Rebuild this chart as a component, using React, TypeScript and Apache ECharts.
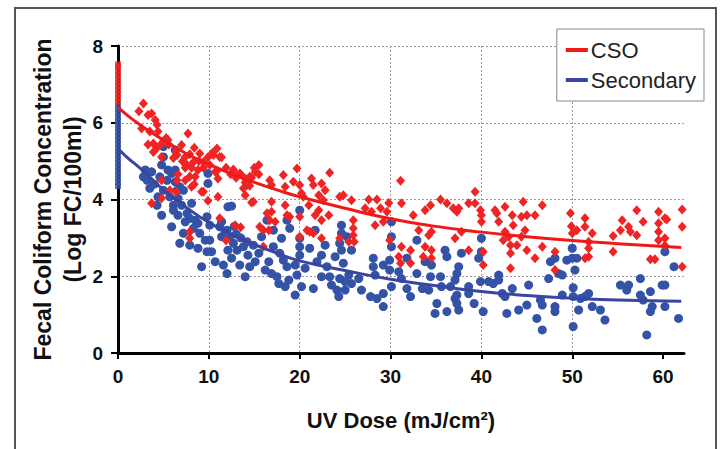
import React, { useEffect, useRef } from "react";
import * as echarts from "echarts";

// UV dose (mJ/cm2) vs log fecal coliform concentration
const csoPoints: number[][] = [
  [2.8, 6.5], [3.7, 6.24], [4.1, 6.07], [2.6, 5.85], [3.5, 5.77], [4.4, 5.77], [7.7, 5.72], [3.9, 5.46], [4.8, 5.46], [5.5, 5.55],
  [7.0, 5.42], [3.9, 5.24], [4.8, 5.11], [6.5, 5.16], [7.4, 5.11], [9.0, 5.2], [10.9, 5.33], [10.5, 5.16], [11.2, 5.11], [7.6, 4.9],
  [8.3, 4.98], [9.4, 4.98], [10.1, 4.9], [10.7, 4.72], [11.0, 4.55], [8.8, 4.77], [7.4, 4.5], [8.5, 4.59], [8.1, 4.33], [9.2, 4.2],
  [11.0, 4.07], [6.5, 4.5], [5.7, 4.24], [4.8, 4.03], [3.7, 3.9], [11.2, 3.51], [7.9, 3.16], [7.9, 2.99], [4.8, 4.5],
  [2.3, 6.3], [3.3, 6.2], [4.3, 5.95], [5.3, 5.6], [3.3, 5.43], [4.3, 5.35], [5.6, 5.43], [6.4, 5.26], [6.1, 5.08], [7.1, 5.0],
  [7.9, 5.18], [8.4, 5.35], [6.6, 4.66], [7.4, 4.83], [8.1, 4.83], [7.9, 4.6], [8.9, 5.0], [9.4, 4.83], [8.4, 4.4], [9.4, 4.2],
  [9.9, 5.1], [10.4, 5.22], [11.4, 5.1], [11.9, 4.83], [12.4, 4.66], [13.0, 4.57], [12.7, 4.75], [13.5, 4.66], [14.0, 4.44], [14.5, 4.36],
  [15.0, 4.83], [14.7, 4.57], [15.5, 4.66], [10.9, 4.75], [6.4, 4.2], [9.9, 3.97], [14.7, 3.92], [13.5, 3.28], [11.9, 2.93],
  [12.7, 4.78], [13.4, 4.68], [14.0, 4.55], [14.5, 4.59], [14.2, 4.38], [13.8, 4.29], [15.1, 4.72], [15.5, 4.9], [14.0, 4.11], [14.9, 3.94],
  [16.7, 4.5], [16.9, 4.38], [18.2, 4.64], [18.4, 4.33], [19.3, 4.46], [19.7, 4.81], [20.0, 4.38], [20.2, 4.16], [20.4, 4.07], [21.0, 3.85],
  [21.3, 4.55], [21.5, 4.38], [22.1, 4.11], [22.4, 4.42], [22.8, 4.24], [22.6, 3.98], [23.3, 4.7], [23.2, 3.59], [22.4, 3.46], [22.1, 3.72],
  [21.7, 3.59], [21.1, 3.16], [21.5, 3.12], [20.8, 3.2], [22.4, 2.99], [20.0, 3.55], [20.0, 3.03], [16.9, 3.68], [16.4, 3.64], [16.7, 3.46],
  [17.3, 3.42], [15.6, 3.29], [16.0, 3.2], [16.6, 3.2], [12.9, 3.33], [16.0, 2.77], [18.4, 3.85], [18.9, 3.55], [16.9, 3.94], [18.6, 3.59],
  [24.4, 2.99], [24.4, 4.07],
  [31.1, 4.49], [24.8, 4.11], [25.7, 3.98], [27.6, 4.0], [28.5, 4.0], [29.8, 3.91], [31.2, 3.9], [27.2, 3.77], [27.9, 3.68], [28.9, 3.77],
  [29.6, 3.68], [29.2, 3.42], [28.3, 3.33], [32.5, 3.59], [33.8, 3.72], [34.4, 3.85], [35.5, 4.0], [36.2, 3.9], [36.9, 3.77], [37.3, 3.68],
  [25.9, 3.46], [25.9, 3.25], [25.9, 3.07], [25.4, 2.9], [26.0, 2.9], [33.1, 3.2], [34.2, 3.07], [34.5, 3.16], [29.9, 2.94], [31.2, 2.77],
  [32.2, 2.68], [30.9, 2.51], [31.1, 2.34], [32.2, 2.34], [33.8, 2.77], [34.5, 2.68], [33.6, 2.51], [34.5, 2.47], [37.1, 2.99],
  [39.3, 4.2], [38.6, 3.9], [39.3, 3.9], [37.5, 3.77], [39.9, 3.72], [40.0, 3.59], [40.0, 3.42], [37.8, 3.16], [41.5, 3.72], [41.7, 3.64],
  [42.6, 3.81], [41.9, 3.42], [43.4, 3.59], [43.5, 3.33], [44.6, 3.94], [44.4, 3.55], [45.0, 3.59], [45.9, 3.59], [46.7, 3.85], [42.6, 3.16],
  [43.0, 3.03], [44.8, 3.2], [44.4, 3.03], [42.4, 2.94], [43.2, 2.81], [43.9, 2.81], [43.2, 2.6], [45.0, 2.68], [45.9, 2.47], [46.7, 2.77],
  [38.6, 2.68], [40.2, 2.64], [40.2, 2.29], [43.2, 2.21], [48.1, 2.64], [48.1, 2.16], [49.8, 3.64], [50.0, 3.12], [49.9, 3.3],
  [51.4, 3.51], [51.4, 3.29], [50.5, 3.2], [52.2, 3.12], [51.8, 2.9], [51.8, 2.73], [51.8, 2.51], [51.4, 2.47], [54.5, 3.05], [54.5, 2.64],
  [55.5, 3.46], [55.3, 3.2], [56.2, 3.29], [56.4, 3.16], [57.1, 3.07], [57.1, 3.72], [57.8, 3.42], [58.6, 2.44], [59.1, 2.44], [59.5, 3.68],
  [59.5, 3.38], [59.5, 3.16], [59.5, 2.94], [60.2, 3.51], [60.4, 3.48], [60.2, 2.99], [60.2, 2.8], [62.1, 3.74], [62.1, 3.29], [62.1, 2.25],
];

const secondaryPoints: number[][] = [
  [3.0, 4.77], [3.7, 4.72], [2.8, 4.59], [3.5, 4.29], [5.0, 5.38], [5.0, 5.11], [6.3, 5.29], [4.8, 4.9], [5.5, 4.77], [5.9, 4.68],
  [6.3, 4.77], [4.6, 4.59], [5.4, 4.5], [6.3, 4.46], [5.0, 4.24], [6.5, 4.24], [6.8, 4.33], [7.2, 4.24], [4.4, 4.07], [5.7, 4.07],
  [6.6, 4.03], [4.3, 3.85], [6.1, 3.85], [7.0, 3.85], [4.8, 3.59], [6.1, 3.72], [6.6, 3.59], [7.6, 3.64], [8.1, 3.9], [7.9, 3.51],
  [7.4, 3.42], [8.5, 3.46], [5.9, 3.29], [7.2, 3.12], [8.3, 3.25], [8.8, 3.38], [9.0, 3.12], [9.8, 3.55], [9.9, 4.68], [9.9, 4.42],
  [10.1, 3.33], [9.6, 2.94], [10.1, 2.94], [6.8, 2.86], [7.9, 2.81], [8.8, 2.73], [9.8, 2.64], [10.3, 2.64], [9.2, 2.25], [10.7, 2.38],
  [11.6, 2.29], [12.0, 2.07], [11.2, 3.29], [11.4, 3.03], [12.1, 3.81], [11.4, 3.42], [4.0, 4.4], [3.2, 4.5],
  [12.5, 3.83], [12.0, 3.2], [12.3, 3.03], [12.7, 2.86], [12.1, 2.68], [13.1, 2.68], [12.5, 2.47], [13.4, 2.29], [14.0, 1.99], [14.5, 2.25],
  [13.8, 2.77], [14.3, 2.55], [14.9, 2.81], [15.5, 2.6], [15.1, 2.38], [15.8, 3.03], [16.4, 3.46], [17.1, 3.2], [17.1, 2.77], [16.6, 2.38],
  [16.2, 2.16], [16.9, 2.07], [17.5, 1.99], [17.8, 2.6], [18.0, 2.99], [18.2, 2.42], [18.6, 2.25], [17.7, 1.81], [18.8, 1.9], [18.4, 1.73],
  [18.6, 3.46], [18.9, 3.25], [19.5, 2.29], [19.7, 2.03], [19.5, 1.51], [20.0, 3.72], [20.0, 2.99], [20.0, 2.77], [20.0, 2.55], [20.2, 1.73],
  [20.6, 2.21], [21.1, 2.73], [21.5, 1.68], [21.9, 2.38], [22.4, 2.55], [22.4, 1.99], [22.8, 2.81], [23.0, 2.25], [23.3, 1.99], [23.5, 1.77],
  [24.1, 1.64], [24.3, 1.47], [24.4, 1.94], [23.9, 2.51], [24.4, 2.86], [24.6, 3.12], [24.6, 3.33], [21.7, 3.2],
  [13.0, 3.1], [13.5, 3.0], [14.2, 2.9], [12.8, 3.3], [11.8, 3.15],
  [25.2, 3.03], [24.6, 2.68], [25.7, 2.68], [24.8, 2.34], [25.4, 2.03], [25.0, 1.86], [25.7, 1.81], [25.0, 1.64], [26.5, 1.94], [26.8, 1.64],
  [27.8, 1.47], [28.1, 2.47], [28.1, 2.25], [28.3, 2.03], [28.5, 1.42], [29.2, 1.55], [29.2, 1.21], [29.2, 2.29], [29.9, 2.42], [30.1, 2.77],
  [30.1, 3.03], [30.1, 3.42], [29.9, 2.16], [30.1, 1.73], [30.9, 2.12], [31.2, 1.94], [31.8, 2.47], [31.8, 1.68], [32.2, 1.47], [32.9, 2.94],
  [32.9, 2.07], [33.5, 1.68], [33.8, 2.38], [34.2, 1.64], [34.4, 1.99], [34.5, 2.29], [34.9, 1.03], [35.1, 1.29], [35.5, 1.99], [35.6, 1.73],
  [36.0, 2.68], [36.2, 2.51], [36.2, 1.08], [36.6, 1.73], [37.1, 1.9], [37.1, 1.42], [37.5, 1.12], [37.5, 2.25],
  [40.0, 2.99], [40.0, 2.64], [39.7, 2.47], [37.8, 2.6], [37.3, 2.07], [37.3, 1.51], [37.3, 1.29], [38.6, 1.73], [38.6, 1.55], [39.2, 1.29],
  [39.9, 1.86], [40.8, 1.86], [41.3, 1.81], [41.9, 2.03], [41.9, 1.9], [40.2, 1.08], [42.3, 1.55], [42.6, 1.47], [42.8, 1.03], [43.4, 1.68],
  [44.1, 1.12], [45.0, 1.25], [45.2, 1.77], [46.1, 0.9], [46.5, 1.38], [46.7, 0.6], [46.7, 1.25], [47.4, 1.94], [47.6, 2.38], [48.1, 2.47],
  [48.1, 1.21], [48.1, 1.08], [48.5, 2.07], [48.9, 2.03], [48.9, 1.51], [49.4, 2.42], [50.1, 1.7], [50.1, 0.69],
  [50.0, 2.73], [50.0, 2.47], [50.5, 2.47], [50.3, 2.16], [50.1, 1.47], [50.9, 1.42], [51.4, 1.47], [51.8, 1.55], [50.7, 1.12], [52.2, 1.21],
  [53.1, 1.12], [53.6, 0.86], [55.3, 1.77], [56.2, 1.77], [56.0, 1.64], [57.5, 1.94], [57.5, 1.51], [57.8, 1.38], [58.6, 1.6], [58.8, 1.21],
  [58.6, 1.08], [58.2, 0.47], [59.9, 1.77], [60.2, 1.77], [60.2, 2.64], [60.2, 1.21], [61.2, 2.25], [61.7, 0.9],
];

// samples stacked at zero dose (the solid bars on the y axis)
const csoZeroDose = [6.55, 6.65, 6.75, 6.85, 6.95, 7.05, 7.15, 7.25, 7.35, 7.45, 7.52];
const secondaryZeroDose = [4.35, 4.45, 4.55, 4.65, 4.75, 4.85, 4.95, 5.05, 5.15, 5.25, 5.35, 5.45, 5.55, 5.65, 5.75, 5.85, 5.95, 6.05, 6.15, 6.25, 6.35, 6.45];

// fitted curves
const fitDose = [0, 1, 2, 3, 5, 7.5, 10, 12.5, 15, 17.5, 20, 25, 30, 35, 40, 45, 50, 55, 62];
const csoFit = [6.4, 6.2, 6.02, 5.85, 5.55, 5.2, 4.92, 4.67, 4.45, 4.25, 4.07, 3.77, 3.5, 3.3, 3.15, 3.03, 2.93, 2.85, 2.75];
const secondaryFit = [5.33, 5.1, 4.9, 4.7, 4.25, 3.8, 3.4, 3.1, 2.83, 2.6, 2.4, 2.15, 1.92, 1.75, 1.6, 1.5, 1.43, 1.38, 1.35];

const xTicks = [0, 10, 20, 30, 40, 50, 60];

const FONT = '"Liberation Sans", Arial, Helvetica, sans-serif';
const RED = "#f02424";
const BLUE = "#3452a6";

export default function App() {
  const ref = useRef<HTMLDivElement>(null);
  useEffect(() => {
    if (!ref.current) return;
    const chart = echarts.init(ref.current, undefined, { renderer: "svg" });
    const option: any = {
      animation: false,
      backgroundColor: "#ffffff",
      textStyle: { fontFamily: FONT },
      graphic: [
        {
          type: "rect",
          shape: { x: 15, y: 8, width: 701, height: 470 },
          style: { fill: "none", stroke: "#555", lineWidth: 2 },
          silent: true,
          z: -1,
        },
      ],
      grid: { left: 118, right: 42, top: 46, bottom: 96, containLabel: false },
      legend: {
        data: ["CSO", "Secondary"],
        orient: "vertical",
        right: 22,
        top: 29,
        icon: "rect",
        itemWidth: 22,
        itemHeight: 4,
        itemGap: 8,
        padding: [10, 8, 10, 9],
        borderColor: "#888",
        borderWidth: 1,
        backgroundColor: "#fff",
        textStyle: { fontSize: 22, color: "#222", fontFamily: FONT, padding: [0, 0, 0, -2] },
      },
      xAxis: {
        type: "value",
        min: 0,
        max: 62.3,
        interval: 10,
        name: "UV Dose (mJ/cm²)",
        nameLocation: "middle",
        nameGap: 56,
        nameMoveOverlap: false,
        nameTextStyle: { fontSize: 22, fontWeight: "bold", color: "#111", fontFamily: FONT },
        axisLine: { show: true, onZero: false, lineStyle: { color: "#000", width: 3 } },
        axisTick: { show: true, length: 6, customValues: xTicks, lineStyle: { color: "#000", width: 2 } },
        axisLabel: { customValues: xTicks, margin: 14, fontSize: 19, fontWeight: "bold", color: "#111", fontFamily: FONT },
        splitLine: { show: true, showMinLine: false, showMaxLine: false, lineStyle: { color: "#999", type: [2, 2], width: 1 } },
      },
      yAxis: {
        type: "value",
        min: 0,
        max: 8,
        interval: 2,
        name: "Fecal Coliform Concentration\n(Log FC/100ml)",
        nameLocation: "middle",
        nameGap: 30,
        nameMoveOverlap: false,
        nameTextStyle: { fontSize: 23, fontWeight: "bold", color: "#111", lineHeight: 30, fontFamily: FONT, align: "center" },
        axisLine: { show: true, onZero: false, lineStyle: { color: "#000", width: 3 } },
        axisTick: { show: true, length: 7, lineStyle: { color: "#000", width: 2 } },
        axisLabel: { margin: 15, fontSize: 19, fontWeight: "bold", color: "#111", fontFamily: FONT },
        splitLine: { show: true, showMinLine: false, lineStyle: { color: "#999", type: [2, 2], width: 1 } },
      },
      series: [
        {
          name: "Secondary data",
          type: "scatter",
          symbol: "circle",
          symbolSize: 9,
          itemStyle: { color: BLUE, opacity: 1 },
          data: secondaryPoints,
          z: 3,
        },
        {
          name: "CSO data",
          type: "scatter",
          symbol: "diamond",
          symbolSize: [9, 10],
          itemStyle: { color: RED, opacity: 1 },
          data: csoPoints,
          z: 4,
        },
        {
          name: "Secondary zero",
          type: "scatter",
          symbol: "rect",
          symbolSize: [6, 6],
          itemStyle: { color: BLUE },
          data: secondaryZeroDose.map((v) => [0, v]),
          z: 5,
        },
        {
          name: "CSO zero",
          type: "scatter",
          symbol: "rect",
          symbolSize: [6, 6],
          itemStyle: { color: RED },
          data: csoZeroDose.map((v) => [0, v]),
          z: 6,
        },
        {
          name: "Secondary",
          type: "line",
          smooth: true,
          symbol: "none",
          lineStyle: { color: "#3a45a0", width: 3 },
          itemStyle: { color: "#3a45a0" },
          data: fitDose.map((d, i) => [d, secondaryFit[i]]),
          z: 7,
        },
        {
          name: "CSO",
          type: "line",
          smooth: true,
          symbol: "none",
          lineStyle: { color: "#f21818", width: 3 },
          itemStyle: { color: "#f21818" },
          data: fitDose.map((d, i) => [d, csoFit[i]]),
          z: 8,
        },
      ],
    };
    chart.setOption(option);
    return () => chart.dispose();
  }, []);
  return (
    <div
      ref={ref}
      style={{ position: "fixed", left: 0, top: 0, width: 726, height: 449, background: "#fff" }}
    />
  );
}
